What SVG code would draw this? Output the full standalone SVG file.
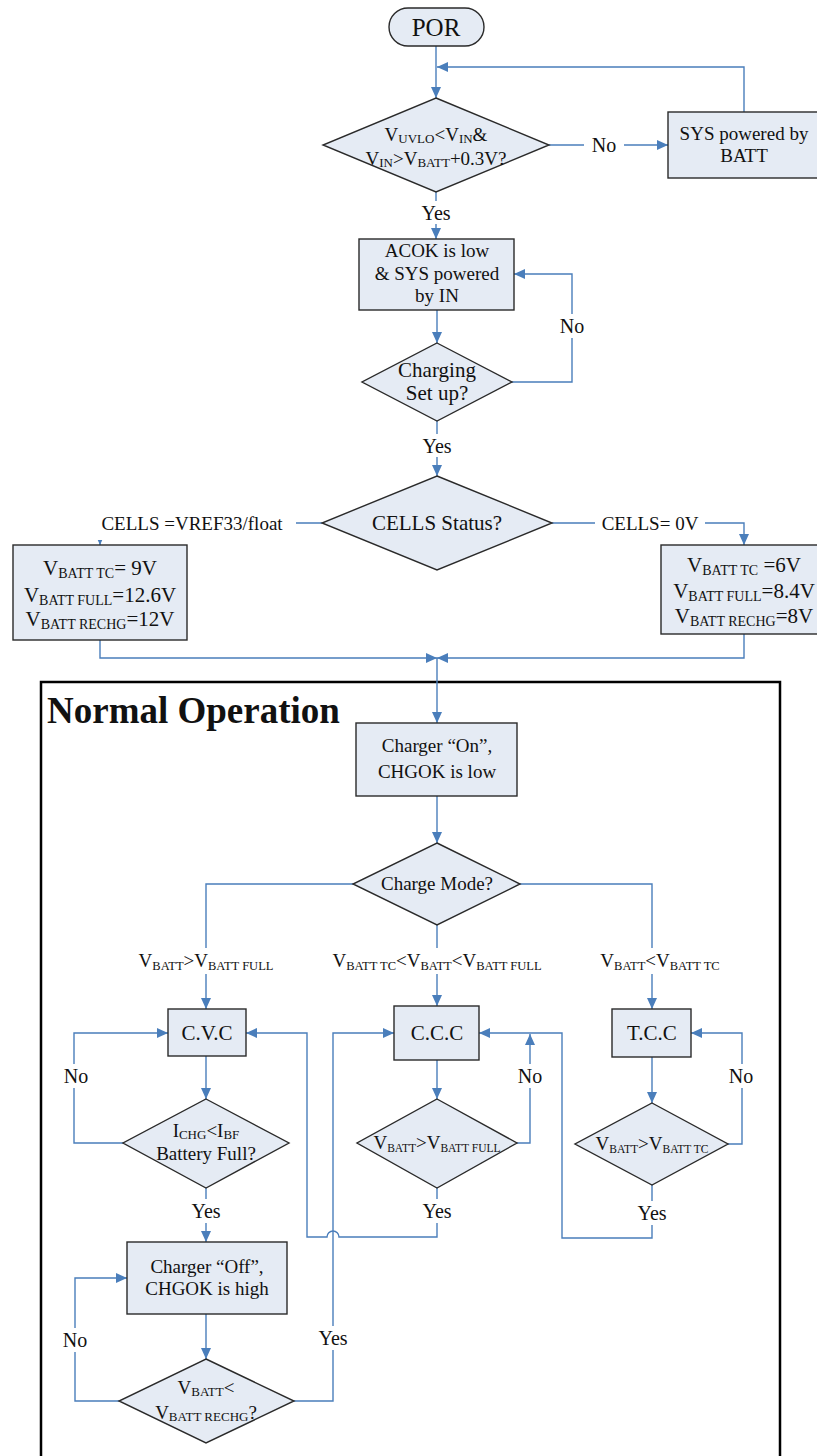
<svg xmlns="http://www.w3.org/2000/svg" width="817" height="1456" viewBox="0 0 817 1456">
<defs>
<marker id="ah" markerUnits="userSpaceOnUse" markerWidth="11" markerHeight="10" refX="11" refY="5" orient="auto">
<path d="M0,0 L11,5 L0,10 z" fill="#4A7EBB"/>
</marker>
<style>
text{font-family:"Liberation Serif","Times New Roman",serif;fill:#111;text-anchor:middle}
.box{fill:#E5EBF4;stroke:#2a2a2a;stroke-width:1.4}
.con{fill:none;stroke:#4A7EBB;stroke-width:1.4}
.arr{marker-end:url(#ah)}
.bg{fill:#fff;stroke:none}
.t19{font-size:19px}
.t20{font-size:20px}
.t21{font-size:21px}
.s{font-size:13px}
.s14{font-size:14px}
.s12{font-size:12.5px}
.s11{font-size:11.5px}
</style>
</defs>
<rect width="817" height="1456" fill="#fff"/>

<g id="normal-operation">
<rect x="41" y="682" width="739" height="800" fill="none" stroke="#000" stroke-width="2.5"/>
<text x="47" y="723" style="font-size:37px;font-weight:bold;text-anchor:start">Normal Operation</text>
</g>

<g id="connectors">
<path class="con arr" d="M436,46 V98"/>
<path class="con arr" d="M744,112 V67 H437"/>
<path class="con arr" d="M549,145 H668"/>
<path class="con arr" d="M436,192 V239"/>
<path class="con arr" d="M437,310 V343"/>
<path class="con arr" d="M512,382 H572 V274 H514"/>
<path class="con arr" d="M437,421 V476"/>
<path class="con arr" d="M322,523 H100 V545"/>
<path class="con arr" d="M552,523 H744 V545"/>
<path class="con arr" d="M100,640 V658 H437"/>
<path class="con arr" d="M744,634 V658 H437"/>
<path class="con arr" d="M437,658 V723"/>
<path class="con arr" d="M437,796 V843"/>
<path class="con arr" d="M353,884 H206 V1009"/>
<path class="con arr" d="M437,925 V1006"/>
<path class="con arr" d="M520,884 H652 V1009"/>
<path class="con arr" d="M206,1056 V1099"/>
<path class="con arr" d="M123,1143 H74 V1033 H168"/>
<path class="con arr" d="M206,1188 V1242"/>
<path class="con arr" d="M206,1314 V1359"/>
<path class="con arr" d="M119,1401 H75 V1278 H127"/>
<path class="con arr" d="M294,1401 H333 V1033 H394"/>
<path class="con arr" d="M437,1060 V1099"/>
<path class="con arr" d="M517,1143 H530 V1034"/>
<path class="con arr" d="M437,1188 V1237 H339 A6,6 0 0 0 327,1237 H307 V1033 H246"/>
<path class="con arr" d="M652,1057 V1103"/>
<path class="con arr" d="M728,1144 H742 V1033 H691"/>
<path class="con arr" d="M652,1185 V1238 H562 V1033 H479"/>
</g>

<g id="labels">
<rect class="bg" x="584" y="133" width="40" height="24"/>
<text class="t20" x="604" y="152">No</text>
<rect class="bg" x="419" y="201" width="34" height="23"/>
<text class="t20" x="436" y="220">Yes</text>
<rect class="bg" x="559" y="314" width="27" height="24"/>
<text class="t20" x="572" y="333">No</text>
<rect class="bg" x="420" y="434" width="34" height="23"/>
<text class="t20" x="437" y="453">Yes</text>
<rect class="bg" x="92" y="510" width="204" height="30"/>
<text class="t19" x="192" y="530">CELLS =VREF33/float</text>
<rect class="bg" x="595" y="510" width="110" height="26"/>
<text class="t19" x="650" y="530">CELLS= 0V</text>
<rect class="bg" x="130" y="948" width="153" height="26"/>
<text class="t19" x="206" y="967">V<tspan class="s12" dy="3">BATT</tspan><tspan dy="-3">&gt;V</tspan><tspan class="s12" dy="3">BATT FULL</tspan></text>
<rect class="bg" x="324" y="948" width="226" height="26"/>
<text class="t19" x="437" y="967">V<tspan class="s12" dy="3">BATT TC</tspan><tspan dy="-3">&lt;V</tspan><tspan class="s12" dy="3">BATT</tspan><tspan dy="-3">&lt;V</tspan><tspan class="s12" dy="3">BATT FULL</tspan></text>
<rect class="bg" x="594" y="948" width="132" height="26"/>
<text class="t19" x="660" y="967">V<tspan class="s12" dy="3">BATT</tspan><tspan dy="-3">&lt;V</tspan><tspan class="s12" dy="3">BATT TC</tspan></text>
<rect class="bg" x="61" y="1064" width="30" height="24"/>
<text class="t20" x="76" y="1083">No</text>
<rect class="bg" x="189" y="1199" width="34" height="24"/>
<text class="t20" x="206" y="1218">Yes</text>
<rect class="bg" x="60" y="1328" width="30" height="24"/>
<text class="t20" x="75" y="1347">No</text>
<rect class="bg" x="316" y="1326" width="34" height="24"/>
<text class="t20" x="333" y="1345">Yes</text>
<rect class="bg" x="515" y="1064" width="30" height="24"/>
<text class="t20" x="530" y="1083">No</text>
<rect class="bg" x="420" y="1199" width="34" height="24"/>
<text class="t20" x="437" y="1218">Yes</text>
<rect class="bg" x="726" y="1064" width="30" height="24"/>
<text class="t20" x="741" y="1083">No</text>
<rect class="bg" x="635" y="1201" width="34" height="24"/>
<text class="t20" x="652" y="1220">Yes</text>
</g>

<g id="por">
<rect class="box" x="389" y="8" width="95" height="38" rx="19"/>
<text x="436" y="36" style="font-size:25px">POR</text>
</g>

<g id="vin-check">
<polygon class="box" points="436,98 549,145 436,192 323,145"/>
<text class="t19" x="436" y="141">V<tspan class="s" dy="2">UVLO</tspan><tspan dy="-2">&lt;V</tspan><tspan class="s" dy="2">IN</tspan><tspan dy="-2">&amp;</tspan></text>
<text class="t19" x="436" y="165">V<tspan class="s" dy="2">IN</tspan><tspan dy="-2">&gt;V</tspan><tspan class="s" dy="2">BATT</tspan><tspan dy="-2">+0.3V?</tspan></text>
</g>

<g id="sys-batt">
<rect class="box" x="668" y="112" width="160" height="66"/>
<text class="t19" x="744" y="140">SYS powered by</text>
<text class="t19" x="744" y="162">BATT</text>
</g>

<g id="acok">
<rect class="box" x="359" y="239" width="155" height="71"/>
<text class="t19" x="437" y="257">ACOK is low</text>
<text class="t19" x="437" y="280">&amp; SYS powered</text>
<text class="t19" x="437" y="302">by IN</text>
</g>

<g id="charging-setup">
<polygon class="box" points="437,343 512,382 437,421 362,382"/>
<text class="t21" x="437" y="377">Charging</text>
<text class="t21" x="437" y="400">Set up?</text>
</g>

<g id="cells-status">
<polygon class="box" points="437,476 552,523 437,570 322,523"/>
<text class="t21" x="437" y="530">CELLS Status?</text>
</g>

<g id="cells-3">
<rect class="box" x="13" y="545" width="174" height="95"/>
<text class="t21" x="100" y="575">V<tspan class="s14" dy="3">BATT TC</tspan><tspan dy="-3">= 9V</tspan></text>
<text class="t21" x="100" y="602">V<tspan class="s14" dy="3">BATT FULL</tspan><tspan dy="-3">=12.6V</tspan></text>
<text class="t21" x="100" y="626">V<tspan class="s14" dy="3">BATT RECHG</tspan><tspan dy="-3">=12V</tspan></text>
</g>

<g id="cells-2">
<rect class="box" x="661" y="545" width="170" height="89"/>
<text class="t21" x="744" y="572">V<tspan class="s14" dy="3">BATT TC</tspan><tspan dy="-3"> =6V</tspan></text>
<text class="t21" x="744" y="598">V<tspan class="s14" dy="3">BATT FULL</tspan><tspan dy="-3">=8.4V</tspan></text>
<text class="t21" x="744" y="623">V<tspan class="s14" dy="3">BATT RECHG</tspan><tspan dy="-3">=8V</tspan></text>
</g>

<g id="charger-on">
<rect class="box" x="356" y="723" width="161" height="73"/>
<text class="t19" x="437" y="752">Charger “On”,</text>
<text class="t19" x="437" y="778">CHGOK is low</text>
</g>

<g id="charge-mode">
<polygon class="box" points="437,843 520,884 437,925 353,884"/>
<text class="t19" x="437" y="890">Charge Mode?</text>
</g>

<g id="cvc">
<rect class="box" x="168" y="1009" width="78" height="47"/>
<text class="t21" x="207" y="1040">C.V.C</text>
</g>

<g id="battery-full">
<polygon class="box" points="206,1099 289,1143 206,1188 123,1143"/>
<text class="t19" x="206" y="1137">I<tspan class="s" dy="2">CHG</tspan><tspan dy="-2">&lt;I</tspan><tspan class="s" dy="2">BF</tspan></text>
<text class="t19" x="206" y="1160">Battery Full?</text>
</g>

<g id="ccc">
<rect class="box" x="394" y="1006" width="85" height="54"/>
<text class="t21" x="437" y="1040">C.C.C</text>
</g>

<g id="ccc-check">
<polygon class="box" points="437,1099 517,1143 437,1188 357,1143"/>
<text class="t19" x="437" y="1149">V<tspan class="s11" dy="3">BATT</tspan><tspan dy="-3">&gt;V</tspan><tspan class="s11" dy="3">BATT FULL</tspan></text>
</g>

<g id="tcc">
<rect class="box" x="612" y="1009" width="79" height="48"/>
<text class="t21" x="652" y="1040">T.C.C</text>
</g>

<g id="tcc-check">
<polygon class="box" points="652,1103 728,1144 652,1185 575,1144"/>
<text class="t19" x="652" y="1150">V<tspan class="s11" dy="3">BATT</tspan><tspan dy="-3">&gt;V</tspan><tspan class="s11" dy="3">BATT TC</tspan></text>
</g>

<g id="charger-off">
<rect class="box" x="127" y="1242" width="160" height="72"/>
<text class="t19" x="207" y="1273">Charger “Off”,</text>
<text class="t19" x="207" y="1295">CHGOK is high</text>
</g>

<g id="recharge-check">
<polygon class="box" points="206,1359 294,1401 206,1443 119,1401"/>
<text class="t19" x="206" y="1394">V<tspan class="s" dy="2">BATT</tspan><tspan dy="-2">&lt;</tspan></text>
<text class="t19" x="206" y="1419">V<tspan class="s" dy="2">BATT RECHG</tspan><tspan dy="-2">?</tspan></text>
</g>
</svg>
